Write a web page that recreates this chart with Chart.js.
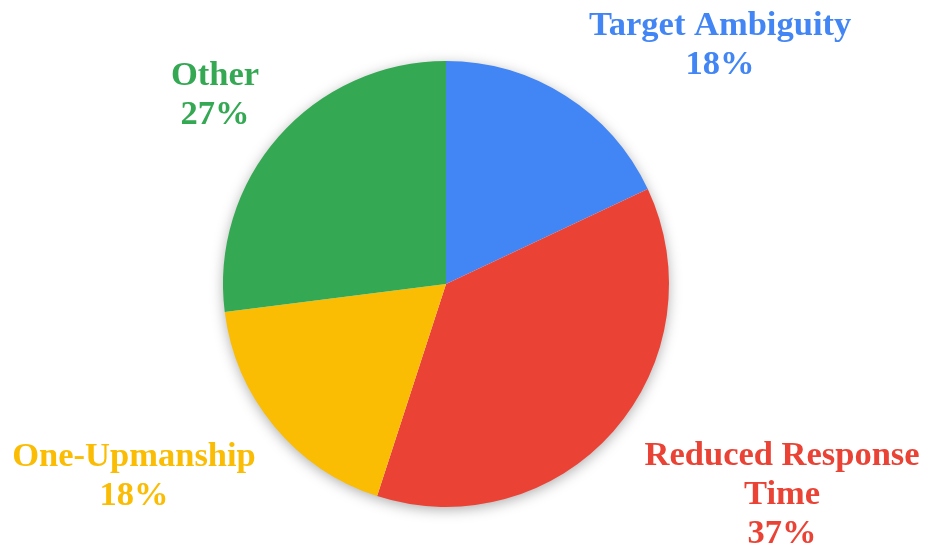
<!DOCTYPE html>
<html lang="en">
<head>
    <meta charset="UTF-8">
    <title>Pie</title>
    <style>
        body {
            margin: 0;
            padding: 0;
            background-color: #ffffff;
        }
        #chartContainer {
            width: 928px;
            height: 548px;
        }
    </style>
    <script src="https://cdn.jsdelivr.net/npm/chart.js"></script>
</head>
<body>
    <div id="chartContainer">
        <canvas id="pieChart"></canvas>
    </div>

    <script>
        const categories = ['Target Ambiguity', 'Reduced Response Time', 'One-Upmanship', 'Other'];
        const percentages = [18, 37, 18, 27];
        const sliceColors = ['#4285F4', '#EA4335', '#FBBC04', '#34A853'];
        // label lines (category text broken as in the figure)
        const labelLines = [
            ['Target Ambiguity'],
            ['Reduced Response', 'Time'],
            ['One-Upmanship'],
            ['Other']
        ];
        // label anchor, in units of the pie radius from its centre
        const labelOffsets = [
            { dx: 1.229, dy: -1.117 },
            { dx: 1.507, dy: 0.812 },
            { dx: -1.399, dy: 0.816 },
            { dx: -1.036, dy: -0.892 }
        ];

        // soft shadow round the whole pie, drawn once under the slices
        const pieShadow = {
            id: 'pieShadow',
            beforeDatasetsDraw(chart) {
                const arc = chart.getDatasetMeta(0).data[0];
                if (!arc) return;
                const ctx = chart.ctx;
                ctx.save();
                ctx.shadowColor = 'rgba(0,0,0,0.35)';
                ctx.shadowBlur = 14;
                ctx.shadowOffsetY = 3;
                ctx.fillStyle = '#ffffff';
                ctx.beginPath();
                ctx.arc(arc.x, arc.y, arc.outerRadius - 1, 0, Math.PI * 2);
                ctx.fill();
                ctx.restore();
            }
        };

        const outsideLabels = {
            id: 'outsideLabels',
            afterDraw(chart) {
                const ctx = chart.ctx;
                const arcs = chart.getDatasetMeta(0).data;
                ctx.save();
                ctx.font = 'bold 34.5px "Liberation Serif", "Times New Roman", serif';
                ctx.textAlign = 'center';
                ctx.textBaseline = 'alphabetic';
                arcs.forEach((arc, i) => {
                    const r = arc.outerRadius;
                    const x = arc.x + labelOffsets[i].dx * r;
                    let y = arc.y + labelOffsets[i].dy * r;
                    const lines = labelLines[i].concat([percentages[i] + '%']);
                    ctx.fillStyle = sliceColors[i];
                    lines.forEach(line => {
                        ctx.fillText(line, x, y);
                        y += 39;
                    });
                });
                ctx.restore();
            }
        };

        new Chart(document.getElementById('pieChart'), {
            type: 'pie',
            data: {
                labels: categories,
                datasets: [{
                    data: percentages,
                    backgroundColor: sliceColors,
                    borderWidth: 0
                }]
            },
            options: {
                responsive: true,
                maintainAspectRatio: false,
                animation: false,
                layout: {
                    padding: { top: 61, bottom: 41, left: 0, right: 36 }
                },
                plugins: {
                    legend: { display: false },
                    tooltip: { enabled: false }
                }
            },
            plugins: [pieShadow, outsideLabels]
        });
    </script>
</body>
</html>
